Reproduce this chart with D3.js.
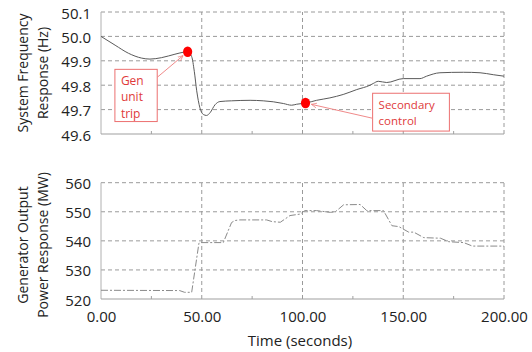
<!DOCTYPE html>
<html><head><meta charset="utf-8">
<script src="https://cdn.jsdelivr.net/npm/d3@7"></script>
<style>
html,body{margin:0;padding:0;background:#fff;}
svg{display:block;font-family:"Open Sans",sans-serif;}
</style></head>
<body>
<svg id="chart" width="532" height="352"></svg>
<script>
// ---- data ----
const timeTicks = [0, 50, 100, 150, 200];
const timeMinor = [25, 75, 125, 175];
const freqTicks = [49.6, 49.7, 49.8, 49.9, 50.0, 50.1];
const powerTicks = [520, 530, 540, 550, 560];

const timeFreq = [0, 7, 13.6, 20.2, 24.3, 30.1, 36.7, 40.8, 43, 45, 46.3, 47.5, 49.1, 50.8, 52.4, 54.1, 56.6, 59, 64.8, 74, 80.5, 85.5, 90.5, 94.6, 97.1, 101.7, 107, 113.6, 120.2, 126.9, 133.5, 135.1, 137.6, 141.8, 150, 158.3, 161.6, 168.2, 179.8, 188.1, 194.7, 200];
const freq = [50.0, 49.964, 49.931, 49.911, 49.907, 49.913, 49.927, 49.935, 49.937, 49.917, 49.857, 49.777, 49.707, 49.68, 49.676, 49.687, 49.72, 49.733, 49.736, 49.738, 49.736, 49.732, 49.725, 49.718, 49.722, 49.727, 49.738, 49.748, 49.762, 49.782, 49.8, 49.807, 49.816, 49.811, 49.827, 49.827, 49.837, 49.851, 49.853, 49.851, 49.843, 49.837];

const timePower = [0, 39, 41.5, 45, 48.6, 49.5, 60.7, 64.8, 66.5, 68.9, 82.2, 85, 89, 93.8, 98.8, 101.2, 107, 113.8, 116.3, 120.4, 128.6, 131.9, 140.2, 144.4, 147.8, 152.7, 155.2, 160.2, 168.5, 172.6, 180, 184.3, 200];
const power = [523.0, 522.9, 522.3, 522.3, 539.2, 539.4, 539.4, 546.3, 547.0, 547.2, 547.2, 546.6, 546.4, 548.7, 549.2, 550.4, 550.4, 549.8, 550.0, 552.4, 552.5, 550.4, 550.4, 545.2, 544.9, 543.0, 543.0, 541.1, 540.9, 539.7, 539.4, 538.2, 538.2];

const eventTime = [43, 101.5];
const eventFreq = [49.937, 49.727];
const eventLabels = [["Gen", "unit", "trip"], ["Secondary", "control"]];
// annotation boxes in data units: [t0, t1, f0(top), f1(bottom)]
const eventBoxes = [[6.9, 27.9, 49.865, 49.651], [134.8, 172.9, 49.767, 49.612]];

// ---- layout ----
const svg = d3.select("#chart");
const X0 = 101, X1 = 504;
const x = d3.scaleLinear().domain([0, 200]).range([X0, X1]);
const yF = d3.scaleLinear().domain([49.6, 50.1]).range([134, 12]);
const yP = d3.scaleLinear().domain([520, 560]).range([299, 182.7]);

const gridCol = "#9a9a9a", textCol = "#222";

function panel(y, ticks, fmt, titleLines, titleY) {
  const g = svg.append("g");
  g.selectAll(".hg").data(ticks.slice(1)).join("line")
    .attr("x1", X0).attr("x2", X1).attr("y1", d => y(d)).attr("y2", d => y(d))
    .attr("stroke", gridCol).attr("stroke-width", 1).attr("stroke-dasharray", "4,3");
  g.selectAll(".vg").data(timeTicks.slice(1)).join("line")
    .attr("x1", d => x(d)).attr("x2", d => x(d)).attr("y1", y.range()[0]).attr("y2", y.range()[1])
    .attr("stroke", gridCol).attr("stroke-width", 1).attr("stroke-dasharray", "4,3");
  g.append("line").attr("x1", X0).attr("x2", X0).attr("y1", y.range()[0]).attr("y2", y.range()[1])
    .attr("stroke", "#b0b0b0").attr("stroke-width", 1);
  g.append("line").attr("x1", X0).attr("x2", X1).attr("y1", y.range()[0]).attr("y2", y.range()[0])
    .attr("stroke", "#a0a0a0").attr("stroke-width", 1.2);
  g.selectAll(".mt").data(timeMinor).join("line")
    .attr("x1", d => x(d)).attr("x2", d => x(d)).attr("y1", y.range()[0]).attr("y2", y.range()[0] - 3)
    .attr("stroke", "#a0a0a0");
  const ax = g.append("g").attr("transform", `translate(${X0 - 10},0)`)
    .call(d3.axisLeft(y).tickValues(ticks).tickFormat(fmt).tickSize(0).tickPadding(0));
  ax.select(".domain").remove();
  ax.selectAll("text").attr("font-size", 15).attr("fill", textCol)
    .attr("font-family", "'Open Sans',sans-serif").attr("dy", "0.4em");
  titleLines.forEach((t, i) => {
    g.append("text").attr("transform", `translate(${[23, 43][i]},${titleY}) rotate(-90)`)
      .attr("text-anchor", "middle").attr("dy", "0.35em")
      .attr("font-size", 14).attr("fill", textCol).text(t);
  });
  return g;
}

panel(yF, freqTicks, d3.format(".1f"), ["System Frequency", "Response (Hz)"], 73);
panel(yP, powerTicks, d3.format("d"), ["Generator Output", "Power Response (MW)"], 245);

const xa = svg.append("g").attr("transform", `translate(0,${yP.range()[0] + 9})`)
  .call(d3.axisBottom(x).tickValues(timeTicks).tickFormat(d3.format(".2f")).tickSize(0).tickPadding(0));
xa.select(".domain").remove();
xa.selectAll("text").attr("font-size", 15).attr("fill", textCol)
  .attr("font-family", "'Open Sans',sans-serif").attr("dy", "0.9em");

svg.append("text").attr("x", 300).attr("y", 346).attr("text-anchor", "middle")
  .attr("font-size", 15).attr("fill", textCol).text("Time (seconds)");

svg.append("path").datum(d3.zip(timeFreq, freq))
  .attr("d", d3.line().x(d => x(d[0])).y(d => yF(d[1])).curve(d3.curveMonotoneX))
  .attr("fill", "none").attr("stroke", "#5a5a5a").attr("stroke-width", 1);

svg.append("path").datum(d3.zip(timePower, power))
  .attr("d", d3.line().x(d => x(d[0])).y(d => yP(d[1])))
  .attr("fill", "none").attr("stroke", "#8a8a8a").attr("stroke-width", 1)
  .attr("stroke-dasharray", "7,2,2,2");

const defs = svg.append("defs");
defs.append("marker").attr("id", "arr").attr("viewBox", "0 0 10 10").attr("refX", 9).attr("refY", 5)
  .attr("markerWidth", 6).attr("markerHeight", 6).attr("orient", "auto")
  .append("path").attr("d", "M0,1 L9,5 L0,9").attr("fill", "none").attr("stroke", "#f08080").attr("stroke-width", 1.2);

eventBoxes.forEach((b, i) => {
  const bx0 = x(b[0]), bx1 = x(b[1]), by0 = yF(b[2]), by1 = yF(b[3]);
  svg.append("rect").attr("x", bx0).attr("y", by0).attr("width", bx1 - bx0).attr("height", by1 - by0)
    .attr("fill", "#fff").attr("stroke", "#ec7070").attr("stroke-width", 1);
  const mx = x(eventTime[i]), my = yF(eventFreq[i]);
  let sx, sy;
  if (i === 0) { sx = bx1; sy = by0 + 8; } else { sx = bx0; sy = by0 + 25; }
  const ang = Math.atan2(my - sy, mx - sx);
  svg.append("line").attr("x1", sx).attr("y1", sy)
    .attr("x2", mx - Math.cos(ang) * 6).attr("y2", my - Math.sin(ang) * 6)
    .attr("stroke", "#f08a8a").attr("stroke-width", 1).attr("marker-end", "url(#arr)");
  const fs = i === 0 ? 12 : 11.5;
  const lh = i === 0 ? 16.5 : 15.8;
  const top = i === 0 ? 15.5 : 16;
  eventLabels[i].forEach((t, j) => {
    svg.append("text").attr("x", bx0 + 6).attr("y", by0 + top + j * lh)
      .attr("font-size", fs).attr("fill", "#e03a3a").text(t);
  });
  svg.append("ellipse").attr("cx", mx).attr("cy", my).attr("rx", 4.6).attr("ry", 5.2).attr("fill", "#ff0000");
});
</script>
</body></html>
